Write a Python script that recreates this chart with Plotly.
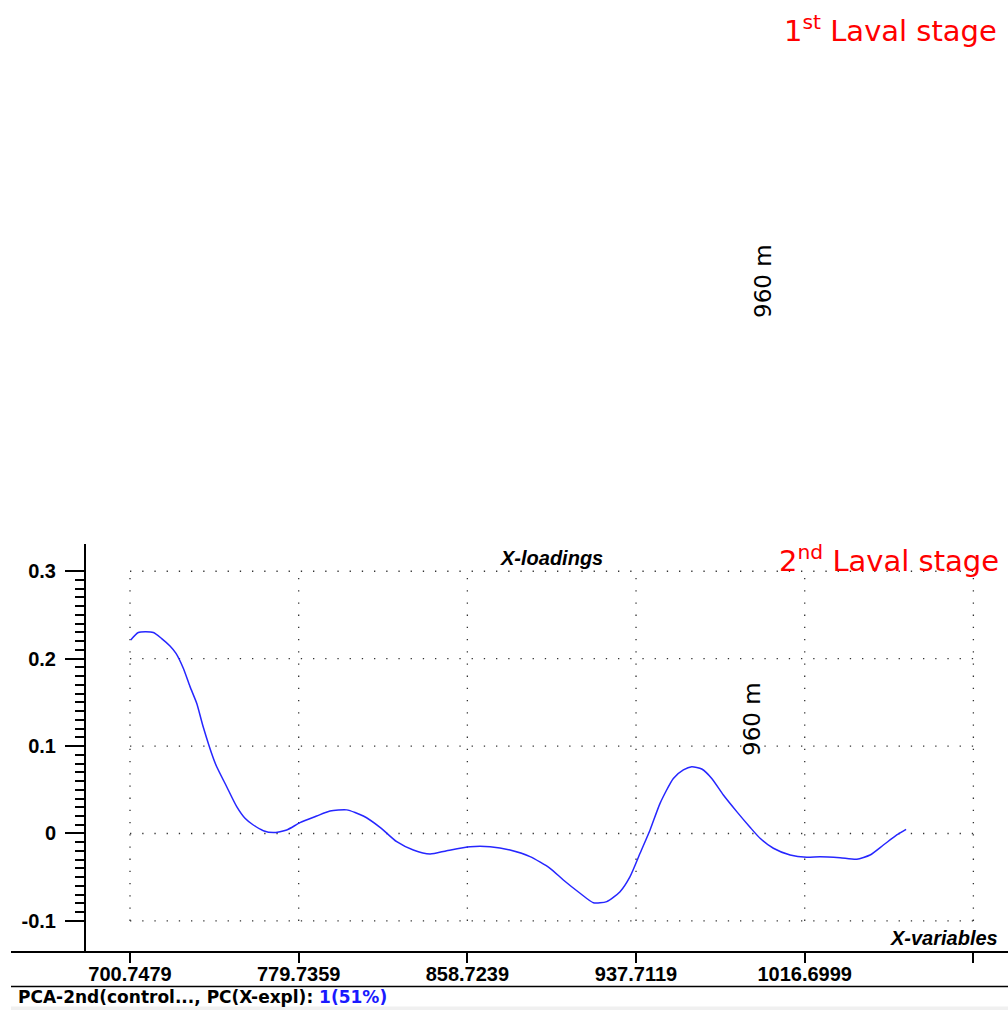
import numpy as np
import plotly.graph_objects as go

# Wavelength (nm) and first-component X-loadings
wavelength = [701.08, 704.64, 711.66, 715.59, 719.48, 722.29, 725.71, 728.85, 731.98,
              735.08, 739.76, 741.35, 746.03, 750.72, 754.60, 758.49, 763.17,
              767.86, 774.14, 780.36, 788.18, 794.41, 802.23, 810.01, 817.83, 825.65,
              833.42, 841.25, 849.07, 859.98, 869.35, 878.71, 888.08, 897.45, 903.68,
              911.50, 917.73, 924.00, 930.23, 934.91, 939.60, 944.28, 948.96, 955.19,
              959.88, 963.81, 968.49, 973.18, 978.61, 984.88, 991.11, 995.80, 1002.03,
              1009.85, 1017.67, 1023.90, 1033.26, 1041.08, 1047.31, 1053.54, 1059.82,
              1064.17]
loading = [0.2214, 0.2300, 0.2300, 0.2230, 0.2145, 0.2060, 0.1890, 0.1680, 0.1490,
           0.1215, 0.0860, 0.0764, 0.0535, 0.0307, 0.0174, 0.0097, 0.0032,
           0.0010, 0.0040, 0.0124, 0.0200, 0.0257, 0.0270, 0.0200, 0.0071, -0.0094,
           -0.0189, -0.0235, -0.0197, -0.0151, -0.0151, -0.0189, -0.0265, -0.0398,
           -0.0532, -0.0684, -0.0792, -0.0780, -0.0666, -0.0494, -0.0227, 0.0040,
           0.0345, 0.0630, 0.0727, 0.0764, 0.0738, 0.0630, 0.0440, 0.0250, 0.0071,
           -0.0055, -0.0169, -0.0246, -0.0272, -0.0265, -0.0277, -0.0295, -0.0246,
           -0.0132, -0.0017, 0.0048]

x_tick_vals = [700.7479, 779.7359, 858.7239, 937.7119, 1016.6999, 1095.6879]
x_tick_text = ["700.7479", "779.7359", "858.7239", "937.7119", "1016.6999", ""]
y_tick_vals = [-0.1, 0.0, 0.1, 0.2, 0.3]
y_tick_text = ["-0.1", "0", "0.1", "0.2", "0.3"]
y_minor_vals = list(np.round(np.arange(-0.1, 0.3001, 0.01), 3))

X_RANGE = [680.14, 1111.9]
Y_RANGE = [-0.1356, 0.3312]

W, H = 1008, 1010
ML, MR, MT, MB = 86, 0, 544, 58
PW, PH = W - ML - MR, H - MT - MB


def px(x):
    return (x - ML) / PW


def py(y):
    return (H - MB - y) / PH


fig = go.Figure()
fig.add_trace(go.Scatter(
    x=wavelength, y=loading, mode="lines",
    line=dict(color="#2626ff", width=1.5, shape="spline", smoothing=0.6),
    hoverinfo="skip", showlegend=False,
))

shapes = []
dot = dict(color="#333333", width=1.3, dash="1.3px,10.9px")
# dotted grid spanning the labelled tick range only
for yv in y_tick_vals:
    shapes.append(dict(type="line", xref="x", yref="y", x0=x_tick_vals[0], x1=x_tick_vals[-1],
                       y0=yv, y1=yv, line=dot, layer="below"))
for xv in x_tick_vals:
    shapes.append(dict(type="line", xref="x", yref="y", x0=xv, x1=xv,
                       y0=y_tick_vals[0], y1=y_tick_vals[-1], line=dot, layer="below"))
# white panel behind the stage label
shapes.append(dict(type="rect", xref="paper", yref="paper", x0=px(722), x1=px(1010),
                   y0=py(596), y1=py(540), fillcolor="white", line=dict(width=0), layer="below"))
# x axis baseline, extended to the left edge
shapes.append(dict(type="line", xref="paper", yref="paper", x0=px(11), x1=px(1008),
                   y0=py(952), y1=py(952), line=dict(color="black", width=2)))
# status bar separator and footer band
shapes.append(dict(type="line", xref="paper", yref="paper", x0=px(11), x1=px(1008),
                   y0=py(986.5), y1=py(986.5), line=dict(color="black", width=1.5)))
shapes.append(dict(type="rect", xref="paper", yref="paper", x0=px(11), x1=px(1010),
                   y0=py(1012), y1=py(1006.5), fillcolor="#f0f0f0", line=dict(width=0)))

ann = []
red = dict(family="DejaVu Sans", size=29, color="#ff0000")


def note(text, x, y, font, xanchor="center", angle=0):
    ann.append(dict(text=text, xref="paper", yref="paper", x=px(x), y=py(y),
                    xanchor=xanchor, yanchor="middle", textangle=angle,
                    showarrow=False, font=font))


note("1<sup>st</sup> Laval stage", 999, 29, red, "right")
note("2<sup>nd</sup> Laval stage", 1001, 559, red, "right")
black = dict(family="DejaVu Sans", size=23, color="black")
note("960 m", 763, 281, black, angle=-90)
note("960 m", 752, 719, black, angle=-90)
lab = dict(family="Liberation Sans", size=20, color="black")
note("<b><i>X-loadings</i></b>", 551, 558, lab)
note("<b><i>X-variables</i></b>", 1000, 938, lab, "right")
note("<b>PCA-2nd(control..., PC(X-expl): <span style='color:#1a1aff'>1(51%)</span></b>",
     16, 997, dict(family="DejaVu Sans", size=17, color="black"), "left")

fig.update_layout(
    width=W, height=H,
    margin=dict(l=ML, r=MR, t=MT, b=MB),
    paper_bgcolor="white", plot_bgcolor="white",
    xaxis=dict(range=X_RANGE, tickmode="array", tickvals=x_tick_vals, ticktext=x_tick_text,
               ticks="outside", ticklen=10, tickwidth=2, tickcolor="black",
               showline=False, showgrid=False, zeroline=False, ticklabelstandoff=-6,
               tickfont=dict(family="Liberation Sans", size=20, color="black", weight="bold")),
    yaxis=dict(range=Y_RANGE, tickmode="array", tickvals=y_tick_vals, ticktext=y_tick_text,
               ticks="outside", ticklen=19, tickwidth=2, tickcolor="black",
               showline=True, linecolor="black", linewidth=2,
               showgrid=False, zeroline=False, ticklabelstandoff=5,
               minor=dict(tickmode="array", tickvals=y_minor_vals, ticks="outside",
                          ticklen=9, tickwidth=2, tickcolor="black", showgrid=False),
               tickfont=dict(family="Liberation Sans", size=20, color="black", weight="bold")),
    shapes=shapes, annotations=ann,
)

fig.write_html("out.html")
